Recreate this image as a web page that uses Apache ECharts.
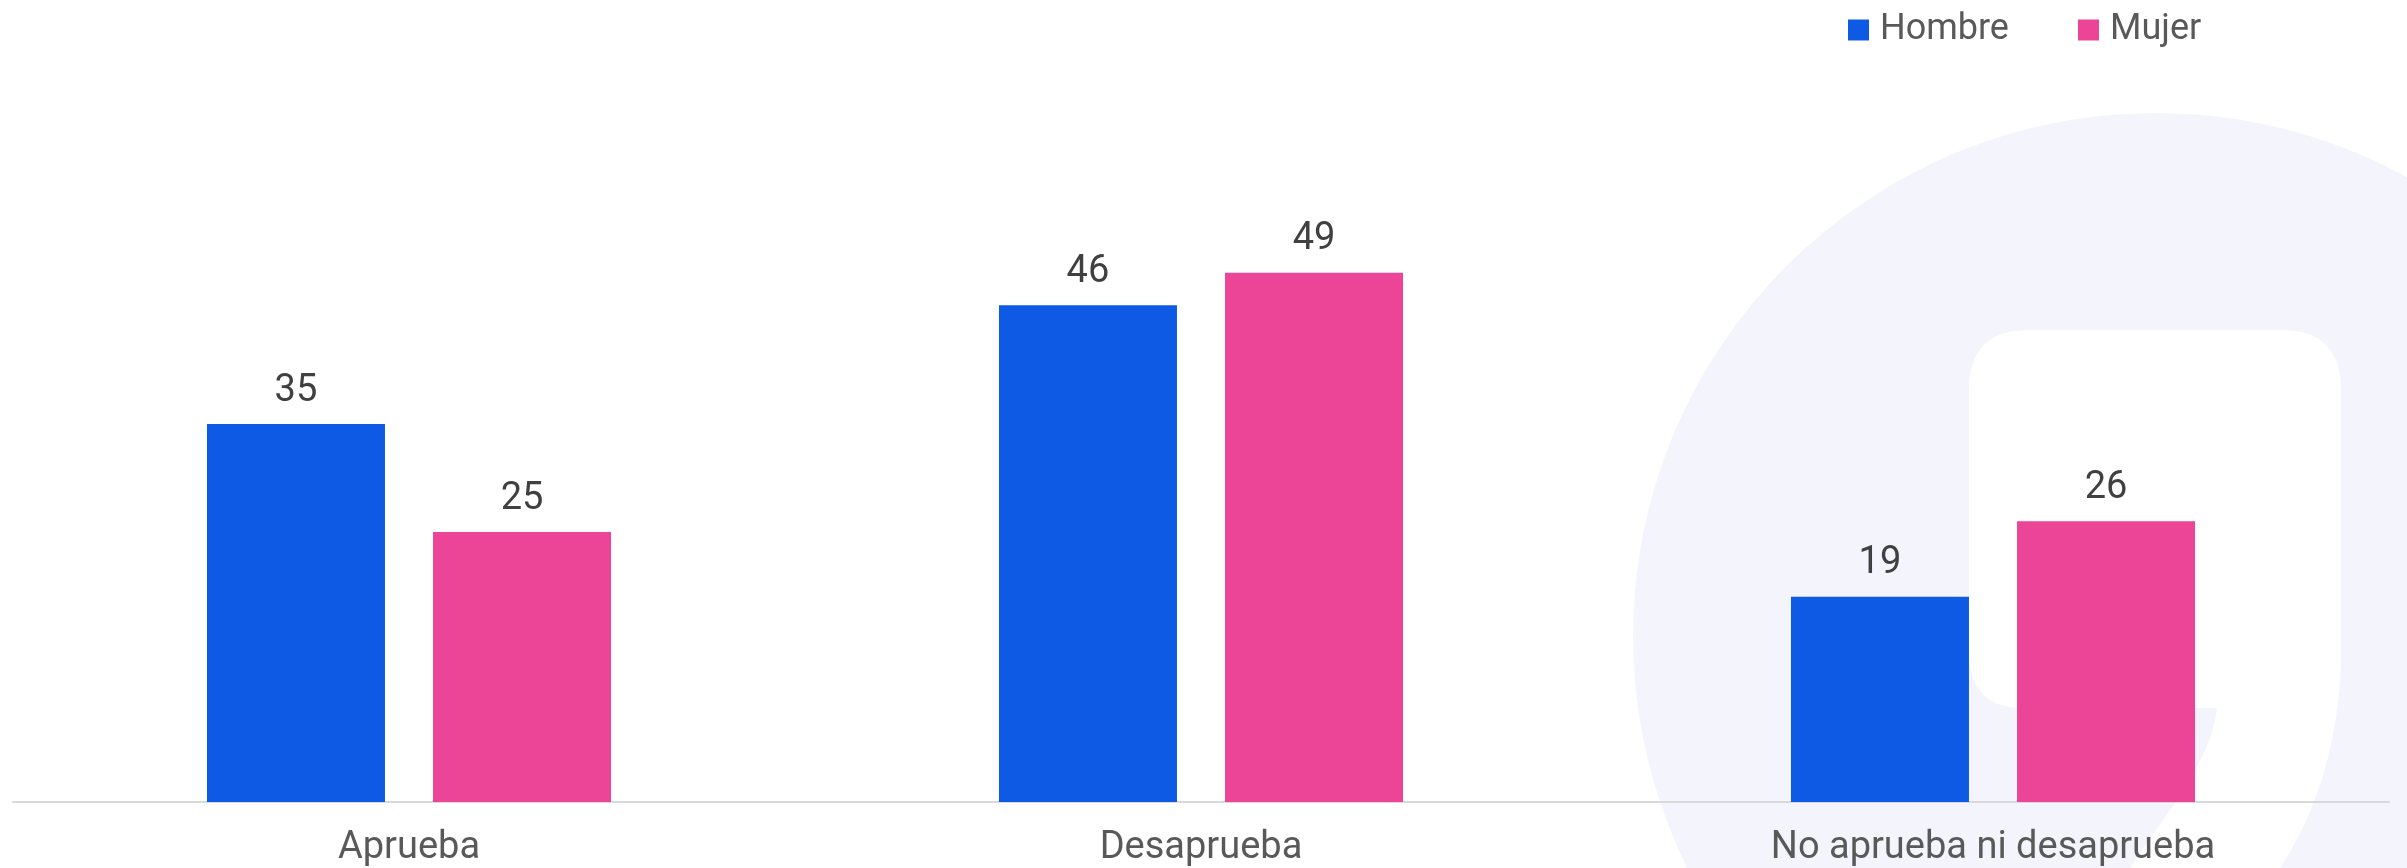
<!DOCTYPE html>
<html>
<head>
<meta charset="utf-8">
<script src="https://cdn.jsdelivr.net/npm/echarts@6/dist/echarts.min.js"></script>
<style>
  html, body { margin: 0; padding: 0; background: #ffffff; }
  #chart { width: 2407px; height: 868px; }
</style>
</head>
<body>
<div id="chart"></div>
<script>
const categories = ['Aprueba', 'Desaprueba', 'No aprueba ni desaprueba'];
const hombre = [35, 46, 19];
const mujer = [25, 49, 26];
const seriesNames = ['Hombre', 'Mujer'];

const FONT = 'Roboto, "Noto Sans", sans-serif';
const BLUE = '#0F5AE5';
const PINK = '#EC4497';
const LAV = '#F4F5FC';

const chart = echarts.init(document.getElementById('chart'), null, { renderer: 'canvas' });

const valueLabel = {
  show: true,
  position: 'top',
  distance: 14,
  color: '#404040',
  fontFamily: FONT,
  fontSize: 38,
  lineHeight: 38
};

// decorative watermark outline: sampled bezier segments
function cubic(p0, p1, p2, p3, n) {
  const out = [];
  for (let i = 1; i <= n; i++) {
    const t = i / n, u = 1 - t;
    out.push([
      u*u*u*p0[0] + 3*u*u*t*p1[0] + 3*u*t*t*p2[0] + t*t*t*p3[0],
      u*u*u*p0[1] + 3*u*u*t*p1[1] + 3*u*t*t*p2[1] + t*t*t*p3[1]
    ]);
  }
  return out;
}
function quad(p0, p1, p2, n) {
  const out = [];
  for (let i = 1; i <= n; i++) {
    const t = i / n, u = 1 - t;
    out.push([u*u*p0[0] + 2*u*t*p1[0] + t*t*p2[0], u*u*p0[1] + 2*u*t*p1[1] + t*t*p2[1]]);
  }
  return out;
}
const wp = [[2029, 330], [2281, 330]];
wp.push(...quad([2281, 330], [2341, 330], [2341, 390], 16));
wp.push([2341, 650]);
wp.push(...cubic([2341, 650], [2341, 720], [2325, 800], [2280, 868], 30));
wp.push([2130, 868]);
wp.push(...cubic([2130, 868], [2165, 815], [2212, 760], [2217, 708], 30));
wp.push([2024, 708]);
wp.push(...quad([2024, 708], [1969, 708], [1969, 653], 16));
wp.push([1969, 390]);
wp.push(...quad([1969, 390], [1969, 330], [2029, 330], 16));

const legendText = { color: '#595959', fontFamily: FONT, fontSize: 36, lineHeight: 40, padding: [0, 0, 0, 6] };

chart.setOption({
  animation: false,
  backgroundColor: '#ffffff',
  graphic: [
    { type: 'circle', z: -10, silent: true, shape: { cx: 2156, cy: 636, r: 523 }, style: { fill: LAV } },
    { type: 'polygon', z: -9, silent: true, shape: { points: wp }, style: { fill: '#ffffff' } }
  ],
  legend: [
    {
      data: [seriesNames[0]],
      left: 1843, top: 5,
      itemWidth: 21, itemHeight: 21, icon: 'rect',
      textStyle: legendText
    },
    {
      data: [seriesNames[1]],
      left: 2073, top: 5,
      itemWidth: 21, itemHeight: 21, icon: 'rect',
      textStyle: legendText
    }
  ],
  grid: { left: 13, right: 18, top: 154, bottom: 66, containLabel: false },
  xAxis: {
    type: 'category',
    data: categories,
    axisLine: { show: true, lineStyle: { color: '#D9D9D9', width: 2 } },
    axisTick: { show: false },
    axisLabel: { color: '#595959', fontFamily: FONT, fontSize: 38, lineHeight: 38, margin: 27, interval: 0 }
  },
  yAxis: {
    type: 'value',
    min: 0, max: 60, interval: 10,
    show: false,
    splitLine: { show: false }
  },
  series: [
    {
      name: seriesNames[0], type: 'bar', data: hombre,
      barWidth: 178, barGap: '27%',
      itemStyle: { color: BLUE },
      label: valueLabel
    },
    {
      name: seriesNames[1], type: 'bar', data: mujer,
      barWidth: 178, barGap: '27%',
      itemStyle: { color: PINK },
      label: valueLabel
    }
  ]
});
</script>
</body>
</html>
